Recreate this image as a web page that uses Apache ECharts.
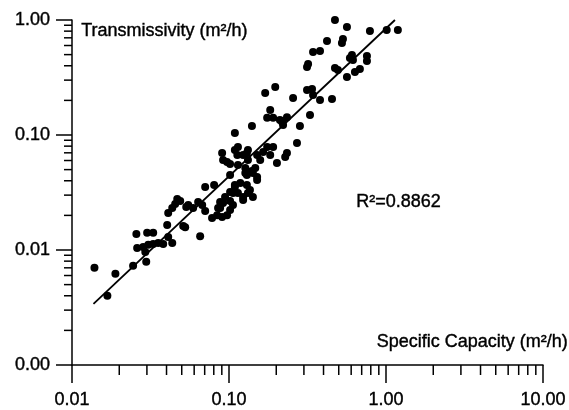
<!DOCTYPE html>
<html>
<head>
<meta charset="utf-8">
<script src="https://cdn.jsdelivr.net/npm/echarts@6/dist/echarts.min.js"></script>
<style>
html,body{margin:0;padding:0;background:#fff;}
#chart{width:569px;height:410px;}
</style>
</head>
<body>
<div id="chart"></div>
<script>
// Specific capacity (m²/h), transmissivity (m²/h)
const specificCapacity = [
  0.0139,0.0168,0.0189,0.0245,0.0297,0.0257,0.0301,0.0329,0.0260,0.0284,
  0.0306,0.0329,0.0354,0.0381,0.0293,0.0404,0.0435,0.0410,0.0511,0.0435,
  0.0454,0.0489,0.0410,0.0534,0.0550,0.0591,0.0636,0.0675,0.0705,0.0655,
  0.0526,0.0840,0.0904,0.0972,0.1016,0.0878,0.0917,0.1016,0.0780,0.123,
  0.0468,0.0878,0.0944,0.1016,0.109,0.118,0.0852,0.106,0.114,0.123,
  0.0705,0.0804,0.136,0.1016,0.109,0.130,0.106,0.132,0.142,0.127,
  0.142,0.151,0.114,0.0904,0.0972,0.0917,0.1016,0.109,0.123,0.132,
  0.127,0.130,0.140,0.151,0.147,0.114,0.113,0.130,0.132,0.151,
  0.158,0.109,0.140,0.170,0.197,0.183,0.175,0.191,0.211,0.221,
  0.234,0.175,0.191,0.165,0.183,0.234,0.228,0.202,0.473,0.564,
  0.790,1.01,1.19,0.421,0.532,0.524,0.343,0.380,0.319,0.314,
  0.607,0.589,0.616,0.756,0.756,0.473,0.494,0.564,0.634,0.682,
  0.314,0.338,0.343,0.256,0.380,0.453,0.328,0.218,0.283,0.271
];
const transmissivity = [
  0.0070,0.0040,0.0062,0.0073,0.0079,0.0138,0.0141,0.0141,0.0104,0.0106,
  0.0111,0.0113,0.0115,0.0113,0.0096,0.0165,0.0115,0.0130,0.0162,0.0232,
  0.0251,0.0267,0.0210,0.0237,0.0246,0.0232,0.0262,0.0246,0.0218,0.0132,
  0.0158,0.0201,0.0194,0.0201,0.0223,0.0232,0.0256,0.0267,0.0190,0.0272,
  0.0278,0.0262,0.0289,0.0319,0.0353,0.0382,0.0232,0.0246,0.0313,0.0289,
  0.0353,0.0367,0.0333,0.0449,0.0367,0.0367,0.0313,0.0313,0.0289,0.0467,
  0.0467,0.0406,0.0548,0.0697,0.0582,0.0606,0.0560,0.0741,0.0670,0.0741,
  0.0516,0.0449,0.0486,0.0431,0.0516,0.0786,0.0670,0.0697,0.0606,0.0670,
  0.0606,0.104,0.120,0.232,0.261,0.165,0.141,0.141,0.135,0.122,
  0.143,0.0786,0.0786,0.0711,0.0670,0.0697,0.0644,0.0571,1.0,0.869,
  0.802,0.818,0.818,0.657,0.684,0.631,0.527,0.538,0.414,0.390,
  0.496,0.467,0.449,0.486,0.440,0.382,0.367,0.319,0.353,0.375,
  0.246,0.251,0.223,0.210,0.2015,0.206,0.149,0.130,0.120,0.0851
];
// Fitted regression line end points
const fitX = [0.0137, 1.14];
const fitY = [0.0034, 1.0];
const rSquaredLabel = 'R²=0.8862';
const xName = 'Specific Capacity (m²/h)';
const yName = 'Transmissivity (m²/h)';
const xRange = [0.01, 10];
const yRange = [0.001, 1];
const minorMultipliers = [2, 3, 4, 5, 6, 7, 8, 9];

const FONT = '"Liberation Sans", Arial, sans-serif';
const points = specificCapacity.map((x, i) => [x, transmissivity[i]]);
const fitLine = fitX.map((x, i) => [x, fitY[i]]);

const chart = echarts.init(document.getElementById('chart'));
const labelStyle = {
  color: '#000', fontFamily: FONT, fontSize: 18,
  textBorderColor: '#000', textBorderWidth: 0.4,
  formatter: v => Number(v).toFixed(2)
};
const textGraphics = [
  {id: 'yname', type: 'text', left: 81, top: 22,
   style: {text: yName, font: '18px ' + FONT, fill: '#000', stroke: '#000', lineWidth: 0.4}},
  {id: 'xname', type: 'text', right: 1, top: 333,
   style: {text: xName, font: '18px ' + FONT, fill: '#000', stroke: '#000', lineWidth: 0.4}},
  {id: 'r2', type: 'text', left: 356, top: 193,
   style: {text: rSquaredLabel, font: '18px ' + FONT, fill: '#000', stroke: '#000', lineWidth: 0.4}}
];
chart.setOption({
  animation: false,
  grid: {left: 72, right: 26, top: 20, bottom: 45},
  xAxis: {
    type: 'log', min: xRange[0], max: xRange[1],
    axisLine: {show: true, lineStyle: {color: '#000', width: 1.5}},
    axisTick: {show: false},
    minorTick: {show: false},
    axisLabel: Object.assign({margin: 26}, labelStyle),
    splitLine: {show: false}
  },
  yAxis: {
    type: 'log', min: yRange[0], max: yRange[1],
    axisLine: {show: true, lineStyle: {color: '#000', width: 1.5}},
    axisTick: {show: false},
    minorTick: {show: false},
    axisLabel: Object.assign({margin: 22}, labelStyle),
    splitLine: {show: false}
  },
  series: [
    {
      type: 'scatter', data: points, symbol: 'circle', symbolSize: 8,
      itemStyle: {color: '#000', opacity: 1}, z: 3
    },
    {
      type: 'line', data: fitLine, showSymbol: false, symbol: 'none',
      lineStyle: {color: '#000', width: 1.8}, z: 4
    }
  ],
  graphic: textGraphics
});

// Log-axis tick marks (decades and 2..9 subdivisions), placed through the axis scales
function tickValues(lo, hi) {
  const major = [], minor = [];
  for (let d = lo; d <= hi * 1.0001; d *= 10) {
    major.push(d);
    if (d < hi * 0.999) minorMultipliers.forEach(m => minor.push(m * d));
  }
  return {major, minor};
}
const xt = tickValues(xRange[0], xRange[1]);
const yt = tickValues(yRange[0], yRange[1]);
const toPx = p => chart.convertToPixel({gridIndex: 0}, p);
const tickEls = [];
function addTick(x1, y1, x2, y2) {
  tickEls.push({id: 'tick' + tickEls.length, type: 'line', z: 10, silent: true,
    shape: {x1: x1, y1: y1, x2: x2, y2: y2},
    style: {stroke: '#000', lineWidth: 1.5}});
}
xt.major.forEach(v => { const p = toPx([v, yRange[0]]); addTick(p[0], p[1], p[0], p[1] + 18); });
xt.minor.forEach(v => { const p = toPx([v, yRange[0]]); addTick(p[0], p[1], p[0], p[1] + 10); });
yt.major.forEach(v => { const p = toPx([xRange[0], v]); addTick(p[0] - 16, p[1], p[0], p[1]); });
yt.minor.forEach(v => { const p = toPx([xRange[0], v]); addTick(p[0] - 8, p[1], p[0], p[1]); });

chart.setOption({graphic: textGraphics.concat(tickEls)});
</script>
</body>
</html>
